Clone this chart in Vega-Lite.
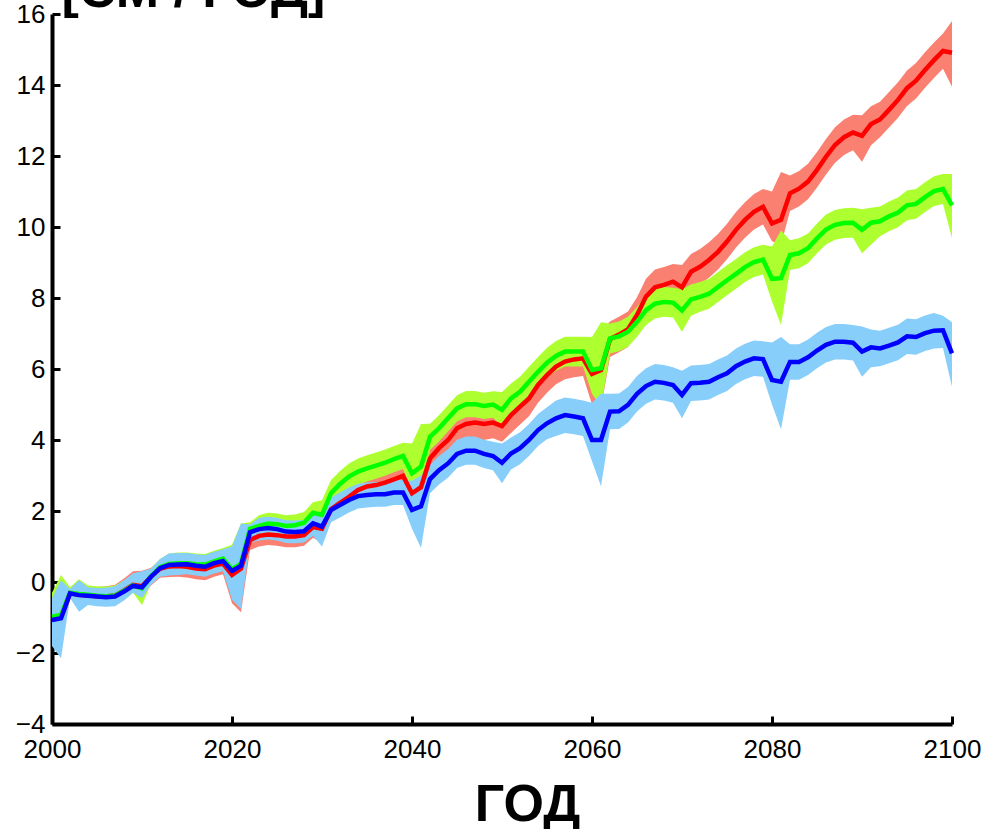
{
 "$schema": "https://vega.github.io/schema/vega-lite/v6.json",
 "width": 900, "height": 710,
 "autosize": {"type": "none"},
 "padding": {"left": 52, "top": 14, "right": 34, "bottom": 105},
 "background": "white",
 "config": {
  "view": {"stroke": null},
  "axis": {"grid": false, "domainColor": "black", "domainWidth": 4, "tickColor": "black", "tickWidth": 3, "tickSize": -8,
   "labelFont": "Liberation Sans", "labelFontSize": 26, "labelColor": "black",
   "labelFlush": false, "labelOverlap": false, "labelBound": false},
  "axisX": {"labelPadding": 20},
  "axisY": {"labelPadding": 15, "titleAngle": 0, "titleX": 9, "titleY": -8, "titleBaseline": "alphabetic", "titleAlign": "left", "titleAnchor": "start",
   "titleFont": "Liberation Sans", "titleFontSize": 52, "titleFontWeight": "bold", "titleColor": "black"}
 },
 "data": {"values": [
{"yr":2000,"b":-1.07,"bl":-1.8,"bh":-0.45,"r":-1.05,"rl":-1.5,"rh":-0.6,"g":-0.98,"gl":-1.3,"gh":-0.3},
{"yr":2001,"b":-1.02,"bl":-2.15,"bh":0.05,"r":-1.0,"rl":-1.6,"rh":-0.1,"g":-0.93,"gl":-1.3,"gh":0.2},
{"yr":2002,"b":-0.32,"bl":-0.45,"bh":-0.2,"r":-0.32,"rl":-0.45,"rh":-0.2,"g":-0.30,"gl":-0.4,"gh":-0.15},
{"yr":2003,"b":-0.37,"bl":-0.84,"bh":0.05,"r":-0.36,"rl":-0.6,"rh":-0.1,"g":-0.34,"gl":-0.6,"gh":0.08},
{"yr":2004,"b":-0.39,"bl":-0.65,"bh":-0.15,"r":-0.38,"rl":-0.6,"rh":-0.15,"g":-0.36,"gl":-0.6,"gh":-0.1},
{"yr":2005,"b":-0.41,"bl":-0.68,"bh":-0.17,"r":-0.40,"rl":-0.65,"rh":-0.15,"g":-0.39,"gl":-0.62,"gh":-0.12},
{"yr":2006,"b":-0.43,"bl":-0.7,"bh":-0.16,"r":-0.41,"rl":-0.65,"rh":-0.12,"g":-0.40,"gl":-0.65,"gh":-0.13},
{"yr":2007,"b":-0.41,"bl":-0.68,"bh":-0.12,"r":-0.38,"rl":-0.62,"rh":-0.08,"g":-0.38,"gl":-0.62,"gh":-0.1},
{"yr":2008,"b":-0.27,"bl":-0.52,"bh":0.05,"r":-0.24,"rl":-0.5,"rh":0.1,"g":-0.25,"gl":-0.5,"gh":0.05},
{"yr":2009,"b":-0.11,"bl":-0.3,"bh":0.25,"r":-0.08,"rl":-0.3,"rh":0.3,"g":-0.10,"gl":-0.3,"gh":0.22},
{"yr":2010,"b":-0.15,"bl":-0.45,"bh":0.3,"r":-0.12,"rl":-0.4,"rh":0.32,"g":-0.18,"gl":-0.65,"gh":0.28},
{"yr":2011,"b":0.15,"bl":-0.08,"bh":0.38,"r":0.15,"rl":-0.1,"rh":0.4,"g":0.16,"gl":-0.05,"gh":0.38},
{"yr":2012,"b":0.39,"bl":0.15,"bh":0.65,"r":0.37,"rl":0.12,"rh":0.62,"g":0.42,"gl":0.18,"gh":0.65},
{"yr":2013,"b":0.48,"bl":0.18,"bh":0.8,"r":0.44,"rl":0.14,"rh":0.74,"g":0.51,"gl":0.2,"gh":0.8},
{"yr":2014,"b":0.49,"bl":0.2,"bh":0.82,"r":0.45,"rl":0.15,"rh":0.75,"g":0.53,"gl":0.23,"gh":0.83},
{"yr":2015,"b":0.50,"bl":0.22,"bh":0.82,"r":0.43,"rl":0.13,"rh":0.73,"g":0.53,"gl":0.23,"gh":0.83},
{"yr":2016,"b":0.46,"bl":0.18,"bh":0.78,"r":0.38,"rl":0.08,"rh":0.68,"g":0.50,"gl":0.2,"gh":0.8},
{"yr":2017,"b":0.43,"bl":0.15,"bh":0.76,"r":0.36,"rl":0.05,"rh":0.66,"g":0.49,"gl":0.19,"gh":0.79},
{"yr":2018,"b":0.53,"bl":0.24,"bh":0.85,"r":0.46,"rl":0.15,"rh":0.76,"g":0.58,"gl":0.28,"gh":0.88},
{"yr":2019,"b":0.59,"bl":0.3,"bh":0.92,"r":0.52,"rl":0.22,"rh":0.82,"g":0.66,"gl":0.36,"gh":0.96},
{"yr":2020,"b":0.31,"bl":-0.5,"bh":1.0,"r":0.20,"rl":-0.6,"rh":0.9,"g":0.36,"gl":-0.3,"gh":1.05},
{"yr":2021,"b":0.46,"bl":-0.75,"bh":1.65,"r":0.38,"rl":-0.85,"rh":1.55,"g":0.52,"gl":-0.3,"gh":1.65},
{"yr":2022,"b":1.40,"bl":1.1,"bh":1.62,"r":1.18,"rl":0.9,"rh":1.48,"g":1.50,"gl":1.2,"gh":1.68},
{"yr":2023,"b":1.49,"bl":1.17,"bh":1.81,"r":1.30,"rl":1.0,"rh":1.6,"g":1.58,"gl":1.28,"gh":1.88},
{"yr":2024,"b":1.52,"bl":1.2,"bh":1.84,"r":1.34,"rl":1.04,"rh":1.64,"g":1.65,"gl":1.35,"gh":1.95},
{"yr":2025,"b":1.49,"bl":1.17,"bh":1.81,"r":1.32,"rl":1.02,"rh":1.62,"g":1.63,"gl":1.33,"gh":1.93},
{"yr":2026,"b":1.42,"bl":1.1,"bh":1.74,"r":1.28,"rl":0.98,"rh":1.58,"g":1.58,"gl":1.28,"gh":1.88},
{"yr":2027,"b":1.41,"bl":1.09,"bh":1.73,"r":1.28,"rl":0.98,"rh":1.58,"g":1.60,"gl":1.3,"gh":1.9},
{"yr":2028,"b":1.43,"bl":1.11,"bh":1.75,"r":1.32,"rl":1.02,"rh":1.62,"g":1.67,"gl":1.37,"gh":1.97},
{"yr":2029,"b":1.65,"bl":1.3,"bh":1.97,"r":1.55,"rl":1.25,"rh":1.85,"g":1.95,"gl":1.65,"gh":2.25},
{"yr":2030,"b":1.56,"bl":1.0,"bh":1.95,"r":1.50,"rl":1.1,"rh":1.85,"g":1.89,"gl":1.5,"gh":2.3},
{"yr":2031,"b":2.03,"bl":1.68,"bh":2.38,"r":2.05,"rl":1.7,"rh":2.4,"g":2.50,"gl":2.13,"gh":2.87},
{"yr":2032,"b":2.17,"bl":1.82,"bh":2.52,"r":2.23,"rl":1.88,"rh":2.58,"g":2.76,"gl":2.39,"gh":3.13},
{"yr":2033,"b":2.31,"bl":1.96,"bh":2.66,"r":2.40,"rl":2.05,"rh":2.75,"g":2.97,"gl":2.6,"gh":3.34},
{"yr":2034,"b":2.42,"bl":2.07,"bh":2.77,"r":2.59,"rl":2.24,"rh":2.94,"g":3.11,"gl":2.74,"gh":3.48},
{"yr":2035,"b":2.45,"bl":2.1,"bh":2.8,"r":2.69,"rl":2.34,"rh":3.04,"g":3.20,"gl":2.83,"gh":3.57},
{"yr":2036,"b":2.47,"bl":2.12,"bh":2.82,"r":2.73,"rl":2.38,"rh":3.08,"g":3.28,"gl":2.91,"gh":3.65},
{"yr":2037,"b":2.47,"bl":2.12,"bh":2.82,"r":2.80,"rl":2.45,"rh":3.15,"g":3.36,"gl":2.99,"gh":3.73},
{"yr":2038,"b":2.52,"bl":2.17,"bh":2.87,"r":2.89,"rl":2.54,"rh":3.24,"g":3.46,"gl":3.09,"gh":3.83},
{"yr":2039,"b":2.52,"bl":2.17,"bh":2.87,"r":2.99,"rl":2.64,"rh":3.34,"g":3.55,"gl":3.18,"gh":3.92},
{"yr":2040,"b":2.03,"bl":1.5,"bh":2.85,"r":2.50,"rl":2.0,"rh":3.3,"g":3.06,"gl":2.6,"gh":3.9},
{"yr":2041,"b":2.13,"bl":0.96,"bh":3.0,"r":2.67,"rl":1.6,"rh":3.8,"g":3.25,"gl":2.3,"gh":4.45},
{"yr":2042,"b":2.90,"bl":2.5,"bh":3.3,"r":3.48,"rl":3.03,"rh":3.93,"g":4.09,"gl":3.72,"gh":4.46},
{"yr":2043,"b":3.15,"bl":2.75,"bh":3.55,"r":3.77,"rl":3.32,"rh":4.22,"g":4.33,"gl":3.96,"gh":4.7},
{"yr":2044,"b":3.34,"bl":2.94,"bh":3.74,"r":4.00,"rl":3.55,"rh":4.45,"g":4.61,"gl":4.24,"gh":4.98},
{"yr":2045,"b":3.61,"bl":3.21,"bh":4.01,"r":4.33,"rl":3.85,"rh":4.78,"g":4.89,"gl":4.52,"gh":5.26},
{"yr":2046,"b":3.70,"bl":3.3,"bh":4.1,"r":4.45,"rl":3.98,"rh":4.9,"g":5.01,"gl":4.64,"gh":5.38},
{"yr":2047,"b":3.70,"bl":3.3,"bh":4.1,"r":4.49,"rl":4.02,"rh":4.94,"g":5.01,"gl":4.64,"gh":5.38},
{"yr":2048,"b":3.61,"bl":3.21,"bh":4.01,"r":4.45,"rl":4.0,"rh":4.9,"g":4.96,"gl":4.59,"gh":5.33},
{"yr":2049,"b":3.55,"bl":3.15,"bh":3.95,"r":4.49,"rl":4.05,"rh":4.94,"g":5.00,"gl":4.63,"gh":5.37},
{"yr":2050,"b":3.36,"bl":2.78,"bh":3.9,"r":4.39,"rl":3.95,"rh":4.9,"g":4.85,"gl":4.39,"gh":5.35},
{"yr":2051,"b":3.62,"bl":3.17,"bh":4.07,"r":4.70,"rl":4.2,"rh":5.2,"g":5.17,"gl":4.75,"gh":5.59},
{"yr":2052,"b":3.77,"bl":3.32,"bh":4.22,"r":4.94,"rl":4.44,"rh":5.44,"g":5.36,"gl":4.94,"gh":5.78},
{"yr":2053,"b":4.00,"bl":3.55,"bh":4.45,"r":5.17,"rl":4.67,"rh":5.67,"g":5.64,"gl":5.22,"gh":6.06},
{"yr":2054,"b":4.28,"bl":3.83,"bh":4.73,"r":5.55,"rl":5.05,"rh":6.05,"g":5.92,"gl":5.5,"gh":6.34},
{"yr":2055,"b":4.47,"bl":4.02,"bh":4.92,"r":5.83,"rl":5.33,"rh":6.33,"g":6.18,"gl":5.76,"gh":6.6},
{"yr":2056,"b":4.61,"bl":4.11,"bh":5.11,"r":6.07,"rl":5.57,"rh":6.57,"g":6.37,"gl":5.95,"gh":6.79},
{"yr":2057,"b":4.70,"bl":4.2,"bh":5.2,"r":6.21,"rl":5.71,"rh":6.71,"g":6.49,"gl":6.07,"gh":6.91},
{"yr":2058,"b":4.66,"bl":4.16,"bh":5.16,"r":6.27,"rl":5.77,"rh":6.77,"g":6.49,"gl":6.07,"gh":6.91},
{"yr":2059,"b":4.61,"bl":4.11,"bh":5.11,"r":6.30,"rl":5.8,"rh":6.8,"g":6.49,"gl":6.07,"gh":6.91},
{"yr":2060,"b":4.00,"bl":3.4,"bh":5.05,"r":5.86,"rl":5.0,"rh":6.75,"g":5.97,"gl":5.3,"gh":6.9},
{"yr":2061,"b":4.00,"bl":2.7,"bh":5.3,"r":5.97,"rl":4.9,"rh":7.1,"g":6.02,"gl":4.94,"gh":7.32},
{"yr":2062,"b":4.80,"bl":4.3,"bh":5.3,"r":6.84,"rl":6.34,"rh":7.34,"g":6.86,"gl":6.44,"gh":7.28},
{"yr":2063,"b":4.81,"bl":4.31,"bh":5.31,"r":6.97,"rl":6.47,"rh":7.47,"g":6.92,"gl":6.5,"gh":7.34},
{"yr":2064,"b":4.99,"bl":4.49,"bh":5.49,"r":7.12,"rl":6.62,"rh":7.62,"g":7.05,"gl":6.63,"gh":7.47},
{"yr":2065,"b":5.30,"bl":4.8,"bh":5.8,"r":7.52,"rl":7.02,"rh":8.02,"g":7.33,"gl":6.91,"gh":7.75},
{"yr":2066,"b":5.52,"bl":5.02,"bh":6.02,"r":8.04,"rl":7.54,"rh":8.54,"g":7.66,"gl":7.24,"gh":8.08},
{"yr":2067,"b":5.64,"bl":5.14,"bh":6.14,"r":8.30,"rl":7.8,"rh":8.8,"g":7.84,"gl":7.42,"gh":8.26},
{"yr":2068,"b":5.61,"bl":5.11,"bh":6.11,"r":8.37,"rl":7.87,"rh":8.87,"g":7.89,"gl":7.47,"gh":8.31},
{"yr":2069,"b":5.55,"bl":5.05,"bh":6.05,"r":8.46,"rl":7.96,"rh":8.96,"g":7.87,"gl":7.45,"gh":8.29},
{"yr":2070,"b":5.27,"bl":4.61,"bh":5.95,"r":8.30,"rl":7.7,"rh":8.93,"g":7.65,"gl":7.05,"gh":8.25},
{"yr":2071,"b":5.60,"bl":5.1,"bh":6.1,"r":8.74,"rl":8.2,"rh":9.24,"g":7.96,"gl":7.5,"gh":8.38},
{"yr":2072,"b":5.61,"bl":5.11,"bh":6.11,"r":8.88,"rl":8.38,"rh":9.38,"g":8.03,"gl":7.61,"gh":8.45},
{"yr":2073,"b":5.64,"bl":5.14,"bh":6.14,"r":9.07,"rl":8.57,"rh":9.57,"g":8.12,"gl":7.7,"gh":8.54},
{"yr":2074,"b":5.77,"bl":5.27,"bh":6.27,"r":9.30,"rl":8.8,"rh":9.8,"g":8.31,"gl":7.89,"gh":8.73},
{"yr":2075,"b":5.88,"bl":5.38,"bh":6.38,"r":9.59,"rl":9.09,"rh":10.09,"g":8.50,"gl":8.08,"gh":8.92},
{"yr":2076,"b":6.08,"bl":5.58,"bh":6.58,"r":9.92,"rl":9.42,"rh":10.42,"g":8.68,"gl":8.26,"gh":9.1},
{"yr":2077,"b":6.21,"bl":5.71,"bh":6.71,"r":10.20,"rl":9.7,"rh":10.7,"g":8.87,"gl":8.45,"gh":9.29},
{"yr":2078,"b":6.30,"bl":5.8,"bh":6.8,"r":10.43,"rl":9.93,"rh":10.93,"g":9.01,"gl":8.59,"gh":9.43},
{"yr":2079,"b":6.28,"bl":5.78,"bh":6.78,"r":10.57,"rl":10.07,"rh":11.07,"g":9.08,"gl":8.66,"gh":9.5},
{"yr":2080,"b":5.69,"bl":5.0,"bh":6.75,"r":10.10,"rl":9.6,"rh":11.0,"g":8.54,"gl":7.9,"gh":9.45},
{"yr":2081,"b":5.64,"bl":4.3,"bh":6.9,"r":10.20,"rl":9.5,"rh":11.55,"g":8.56,"gl":7.24,"gh":9.9},
{"yr":2082,"b":6.20,"bl":5.7,"bh":6.7,"r":10.95,"rl":10.45,"rh":11.45,"g":9.21,"gl":8.79,"gh":9.63},
{"yr":2083,"b":6.20,"bl":5.7,"bh":6.7,"r":11.08,"rl":10.58,"rh":11.58,"g":9.26,"gl":8.84,"gh":9.68},
{"yr":2084,"b":6.33,"bl":5.83,"bh":6.83,"r":11.28,"rl":10.78,"rh":11.78,"g":9.40,"gl":8.98,"gh":9.82},
{"yr":2085,"b":6.52,"bl":6.02,"bh":7.02,"r":11.61,"rl":11.11,"rh":12.11,"g":9.68,"gl":9.26,"gh":10.1},
{"yr":2086,"b":6.68,"bl":6.18,"bh":7.18,"r":11.98,"rl":11.48,"rh":12.48,"g":9.93,"gl":9.51,"gh":10.35},
{"yr":2087,"b":6.77,"bl":6.27,"bh":7.27,"r":12.31,"rl":11.81,"rh":12.81,"g":10.06,"gl":9.64,"gh":10.48},
{"yr":2088,"b":6.77,"bl":6.27,"bh":7.27,"r":12.53,"rl":12.03,"rh":13.03,"g":10.11,"gl":9.69,"gh":10.53},
{"yr":2089,"b":6.74,"bl":6.24,"bh":7.24,"r":12.66,"rl":12.16,"rh":13.16,"g":10.12,"gl":9.7,"gh":10.54},
{"yr":2090,"b":6.49,"bl":5.78,"bh":7.2,"r":12.57,"rl":11.84,"rh":13.15,"g":9.92,"gl":9.26,"gh":10.5},
{"yr":2091,"b":6.61,"bl":6.05,"bh":7.11,"r":12.90,"rl":12.3,"rh":13.4,"g":10.12,"gl":9.5,"gh":10.54},
{"yr":2092,"b":6.58,"bl":6.08,"bh":7.08,"r":13.03,"rl":12.53,"rh":13.53,"g":10.16,"gl":9.74,"gh":10.58},
{"yr":2093,"b":6.66,"bl":6.16,"bh":7.16,"r":13.30,"rl":12.8,"rh":13.8,"g":10.30,"gl":9.88,"gh":10.72},
{"yr":2094,"b":6.75,"bl":6.25,"bh":7.25,"r":13.58,"rl":13.08,"rh":14.08,"g":10.41,"gl":9.99,"gh":10.83},
{"yr":2095,"b":6.92,"bl":6.42,"bh":7.42,"r":13.91,"rl":13.41,"rh":14.41,"g":10.61,"gl":10.19,"gh":11.03},
{"yr":2096,"b":6.90,"bl":6.4,"bh":7.4,"r":14.12,"rl":13.62,"rh":14.62,"g":10.65,"gl":10.23,"gh":11.07},
{"yr":2097,"b":7.01,"bl":6.51,"bh":7.51,"r":14.42,"rl":13.92,"rh":14.92,"g":10.84,"gl":10.42,"gh":11.26},
{"yr":2098,"b":7.08,"bl":6.58,"bh":7.58,"r":14.70,"rl":14.2,"rh":15.2,"g":11.01,"gl":10.59,"gh":11.43},
{"yr":2099,"b":7.09,"bl":6.59,"bh":7.5,"r":14.96,"rl":14.46,"rh":15.45,"g":11.07,"gl":10.65,"gh":11.49},
{"yr":2100,"b":6.44,"bl":5.5,"bh":7.32,"r":14.91,"rl":13.95,"rh":15.8,"g":10.61,"gl":9.68,"gh":11.49}
 ]},
 "encoding": {
  "x": {"field": "yr", "type": "quantitative", "title": "ГОД",
   "scale": {"domain": [2000, 2100], "nice": false, "zero": false},
   "axis": {"values": [2000, 2020, 2040, 2060, 2080, 2100], "format": "d",
    "titleFont": "Liberation Sans", "titleFontSize": 52, "titleFontWeight": "bold", "titleColor": "black",
    "titleX": 475, "titleY": 96, "titleBaseline": "alphabetic", "titleAnchor": "middle", "titleAlign": "center"}}
 },
 "layer": [
  {"mark": {"type": "area", "color": "#fa8072", "opacity": 1},
   "encoding": {"y": {"field": "rl", "type": "quantitative", "title": "[СМ / ГОД]",
     "scale": {"domain": [-4, 16], "nice": false, "zero": false},
     "axis": {"values": [-4, -2, 0, 2, 4, 6, 8, 10, 12, 14, 16]}},
    "y2": {"field": "rh"}}},
  {"mark": {"type": "area", "color": "#adff2f", "opacity": 1},
   "encoding": {"y": {"field": "gl", "type": "quantitative", "title": "[СМ / ГОД]"}, "y2": {"field": "gh"}}},
  {"mark": {"type": "area", "color": "#87cefa", "opacity": 1},
   "encoding": {"y": {"field": "bl", "type": "quantitative", "title": "[СМ / ГОД]"}, "y2": {"field": "bh"}}},
  {"mark": {"type": "line", "color": "#ff0000", "strokeWidth": 4.5},
   "encoding": {"y": {"field": "r", "type": "quantitative", "title": "[СМ / ГОД]"}}},
  {"mark": {"type": "line", "color": "#00ff00", "strokeWidth": 4.5},
   "encoding": {"y": {"field": "g", "type": "quantitative", "title": "[СМ / ГОД]"}}},
  {"mark": {"type": "line", "color": "#0000ff", "strokeWidth": 4.5},
   "encoding": {"y": {"field": "b", "type": "quantitative", "title": "[СМ / ГОД]"}}}
 ]
}
